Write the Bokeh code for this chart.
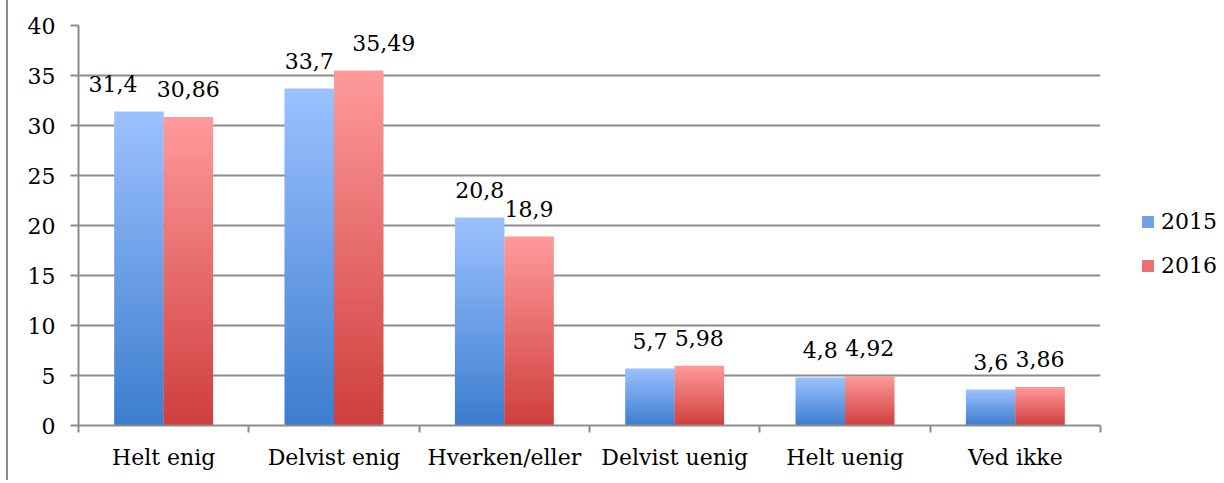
import math
from bokeh.plotting import figure
from bokeh.layouts import row
from bokeh.models import Range1d, FixedTicker, ColumnDataSource, Legend, LegendItem
from bokeh.core.properties import value
from bokeh.embed import file_html
from bokeh.resources import INLINE

# ---- data ----
categories = ["Helt enig", "Delvist enig", "Hverken/eller", "Delvist uenig", "Helt uenig", "Ved ikke"]
years = ["2015", "2016"]
values_2015 = [31.4, 33.7, 20.8, 5.7, 4.8, 3.6]
values_2016 = [30.86, 35.49, 18.9, 5.98, 4.92, 3.86]
y_ticks = [0, 5, 10, 15, 20, 25, 30, 35, 40]

# ---- style ----
FONT = "DejaVu Serif"
GRAY = "#8c8c8c"
bar_w = 0.29
grad = {  # (bottom colour, top colour)
    "2015": ((0x3C, 0x7D, 0xCE), (0x9C, 0xC1, 0xFF)),
    "2016": ((0xCF, 0x3E, 0x3E), (0xFF, 0x9A, 0x9A)),
}
label_dx = {"2015": [-26, 0, 0, 0, 0, 0], "2016": [0, 25, 0, 0, 0, 0]}
SLICE = 0.3  # data units per gradient slice

p = figure(width=1122, height=480, x_range=Range1d(0, 6), y_range=Range1d(0, 40),
           output_backend="svg", toolbar_location=None,
           min_border_left=70, min_border_right=30, min_border_top=25, min_border_bottom=55)
p.styles = {"margin-left": "6px", "border-left": f"2px solid {GRAY}"}
p.outline_line_color = None
p.xgrid.visible = False
p.ygrid.grid_line_color = GRAY
p.ygrid.grid_line_width = 2

# y axis
p.yaxis.ticker = FixedTicker(ticks=y_ticks)
p.yaxis.axis_line_color = GRAY
p.yaxis.axis_line_width = 2
p.yaxis.major_tick_line_color = GRAY
p.yaxis.major_tick_line_width = 2
p.yaxis.major_tick_in = 0
p.yaxis.major_tick_out = 8
p.yaxis.minor_tick_line_color = None
p.yaxis.major_label_standoff = 15
p.yaxis.major_label_text_font = FONT
p.yaxis.major_label_text_font_size = "22px"
p.yaxis.major_label_text_color = "black"

# x axis: labels at category centres, tick marks at boundaries
centers = [i + 0.5 for i in range(len(categories))]
p.xaxis.ticker = FixedTicker(ticks=centers, minor_ticks=list(range(len(categories) + 1)))
p.xaxis.major_label_overrides = {c: lab for c, lab in zip(centers, categories)}
p.xaxis.axis_line_color = GRAY
p.xaxis.axis_line_width = 2
p.xaxis.major_tick_line_color = None
p.xaxis.major_tick_in = 0
p.xaxis.major_tick_out = 0
p.xaxis.minor_tick_line_color = GRAY
p.xaxis.minor_tick_line_width = 2
p.xaxis.minor_tick_in = 0
p.xaxis.minor_tick_out = 7
p.xaxis.major_label_standoff = 12
p.xaxis.major_label_text_font = FONT
p.xaxis.major_label_text_font_size = "22px"
p.xaxis.major_label_text_color = "black"


def lerp(c0, c1, t):
    return "#%02x%02x%02x" % tuple(int(round(a + (b - a) * t)) for a, b in zip(c0, c1))


for yi, (year, vals) in enumerate(zip(years, [values_2015, values_2016])):
    left, right, bottom, top, color = [], [], [], [], []
    c0, c1 = grad[year]
    for i, v in enumerate(vals):
        l = centers[i] - bar_w + yi * bar_w
        n = max(6, math.ceil(v / SLICE))
        for k in range(n):
            left.append(l)
            right.append(l + bar_w)
            bottom.append(v * k / n)
            top.append(v * min(k + 1.5, n) / n)
            color.append(lerp(c0, c1, (k + 0.5) / n))
    src = ColumnDataSource(dict(left=left, right=right, bottom=bottom, top=top, color=color))
    p.quad(left="left", right="right", bottom="bottom", top="top", source=src,
           fill_color="color", line_color=None)

    lab_src = ColumnDataSource(dict(
        x=[c - bar_w / 2 + yi * bar_w for c in centers],
        y=vals,
        text=[f"{v:g}".replace(".", ",") for v in vals],
        dx=label_dx[year],
    ))
    p.text(x="x", y="y", text="text", x_offset="dx", y_offset=-28, source=lab_src,
           text_font=value(FONT), text_font_size="22px", text_color="black",
           text_align="center", text_baseline="alphabetic")

# ---- legend panel ----
lg = figure(width=92, height=480, x_range=Range1d(0, 1), y_range=Range1d(0, 1),
            output_backend="svg", toolbar_location=None,
            min_border_left=0, min_border_right=0, min_border_top=0, min_border_bottom=0)
lg.axis.visible = False
lg.grid.visible = False
lg.outline_line_color = None
items = []
for year in years:
    c0, c1 = grad[year]
    r = lg.quad(left=[5], right=[6], bottom=[5], top=[6], fill_color=lerp(c0, c1, 0.55), line_color=None)
    items.append(LegendItem(label=year, renderers=[r]))
legend = Legend(items=items, location=(12, 147), glyph_width=15, glyph_height=15, label_standoff=6,
                spacing=19, padding=0, margin=0, border_line_color=None, background_fill_alpha=0,
                label_text_font=FONT, label_text_font_size="22px", label_text_color="black")
lg.add_layout(legend)

layout = row(p, lg)
open("out.html", "w").write(file_html(layout, INLINE))
